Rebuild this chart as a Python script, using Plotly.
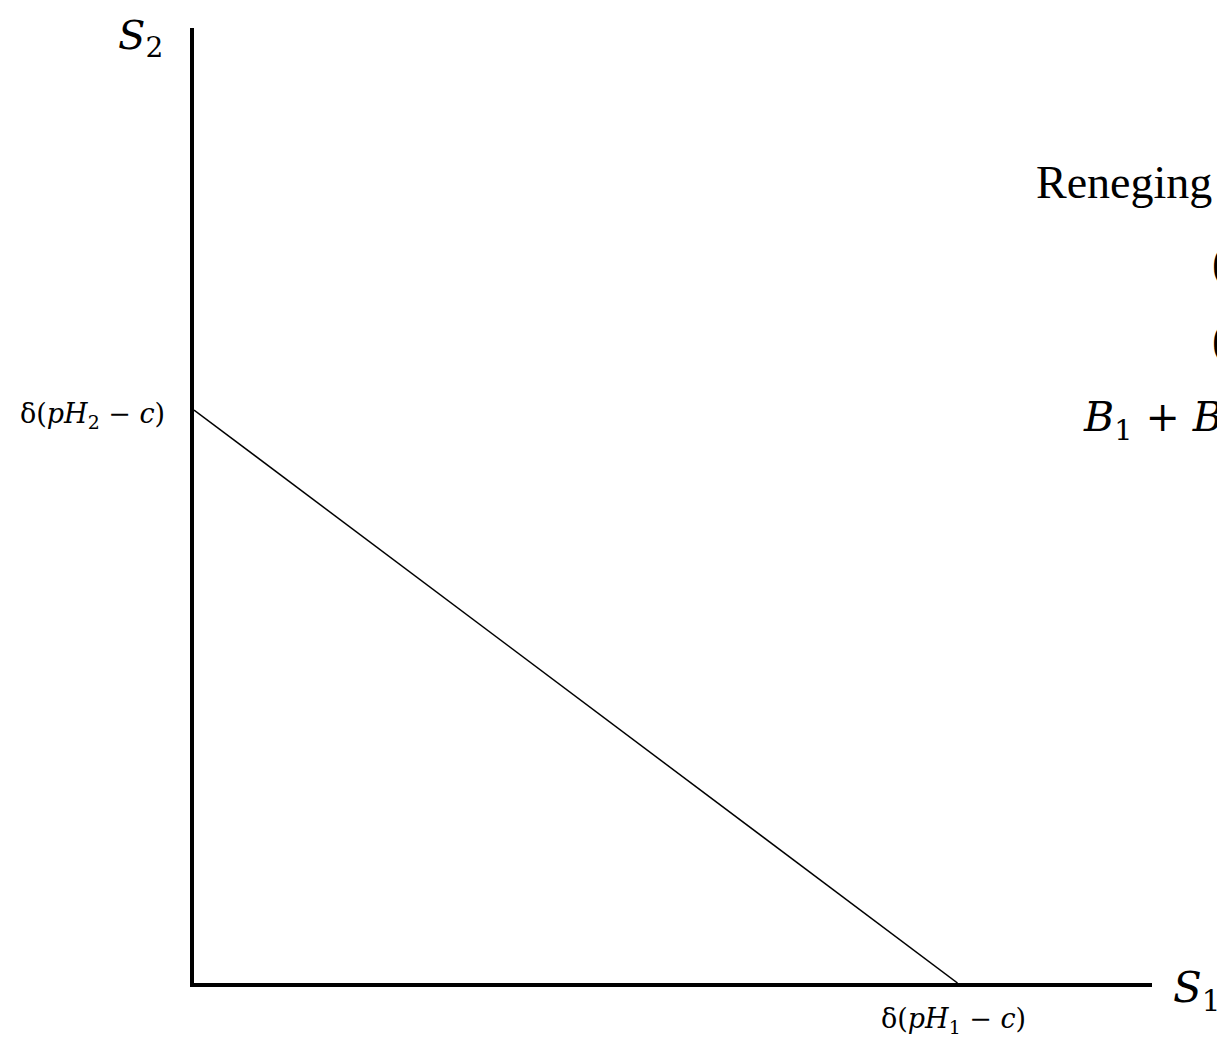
import plotly.graph_objects as go

# Budget line between the two surplus axes (normalised units)
s1_intercept = 0.797   # δ(pH1 − c) on the S1 axis
s2_intercept = 0.600   # δ(pH2 − c) on the S2 axis
line_x = [0.0, s1_intercept]
line_y = [s2_intercept, 0.0]

x_tick_label = "δ(<i>pH</i><sub>1</sub> − <i>c</i>)"
y_tick_label = "δ(<i>pH</i><sub>2</sub> − <i>c</i>)"

W, H = 1217, 1037
ML, MR, MT, MB = 194, 65, 28, 54

math_font = "DejaVu Serif"
roman_font = "Liberation Serif"

fig = go.Figure()
fig.add_trace(go.Scatter(
    x=line_x, y=line_y, mode="lines",
    line=dict(color="black", width=1.5),
    hoverinfo="skip", showlegend=False, cliponaxis=False,
))

axis_common = dict(
    showgrid=False, zeroline=False, showticklabels=False, ticks="",
    showline=True, linecolor="black", linewidth=4, mirror=False,
    range=[0, 1], fixedrange=True,
)
fig.update_xaxes(**axis_common)
fig.update_yaxes(**axis_common)

annotations = [
    # axis titles
    dict(x=165, y=38, xref="paper", yref="paper", text="<i>S</i><sub>2</sub>",
         font=dict(family=math_font, size=40, color="black"),
         xanchor="right", yanchor="middle", showarrow=False),
    dict(x=1171, y=990, xref="paper", yref="paper", text="<i>S</i><sub>1</sub>",
         font=dict(family=math_font, size=42, color="black"),
         xanchor="left", yanchor="middle", showarrow=False),
    # intercept labels
    dict(x=0, y=s2_intercept, xref="x", yref="y", text=y_tick_label,
         font=dict(family=math_font, size=27, color="black"),
         xanchor="right", yanchor="middle", xshift=-27, yshift=-5, showarrow=False),
    dict(x=s1_intercept, y=0, xref="x", yref="y", text=x_tick_label,
         font=dict(family=math_font, size=27, color="black"),
         xanchor="center", yanchor="top", xshift=-4, yshift=-18, showarrow=False),
    # constraint annotation running off the right edge
    dict(x=1034, y=182, xref="paper", yref="paper", text="Reneging constraints",
         font=dict(family=roman_font, size=46, color="black"),
         xanchor="left", yanchor="middle", showarrow=False),
    dict(x=1210, y=262, xref="paper", yref="paper", text="(1)",
         font=dict(family=roman_font, size=46, color="black"),
         xanchor="left", yanchor="middle", showarrow=False),
    dict(x=1210, y=340, xref="paper", yref="paper", text="(2)",
         font=dict(family=roman_font, size=46, color="black"),
         xanchor="left", yanchor="middle", showarrow=False),
    dict(x=1081, y=420, xref="paper", yref="paper",
         text="<i>B</i><sub>1</sub> + <i>B</i><sub>2</sub>",
         font=dict(family=math_font, size=41, color="black"),
         xanchor="left", yanchor="middle", showarrow=False),
]

# convert pixel-placed annotations to paper coordinates
pw, ph = W - ML - MR, H - MT - MB
for a in annotations:
    if a["xref"] == "paper":
        a["x"] = (a["x"] - ML) / pw
        a["y"] = (H - MB - a["y"]) / ph

fig.update_layout(
    width=W, height=H,
    margin=dict(l=ML, r=MR, t=MT, b=MB),
    plot_bgcolor="white", paper_bgcolor="white",
    annotations=annotations,
    showlegend=False,
)

fig.write_html("out.html", config={"displayModeBar": False})
